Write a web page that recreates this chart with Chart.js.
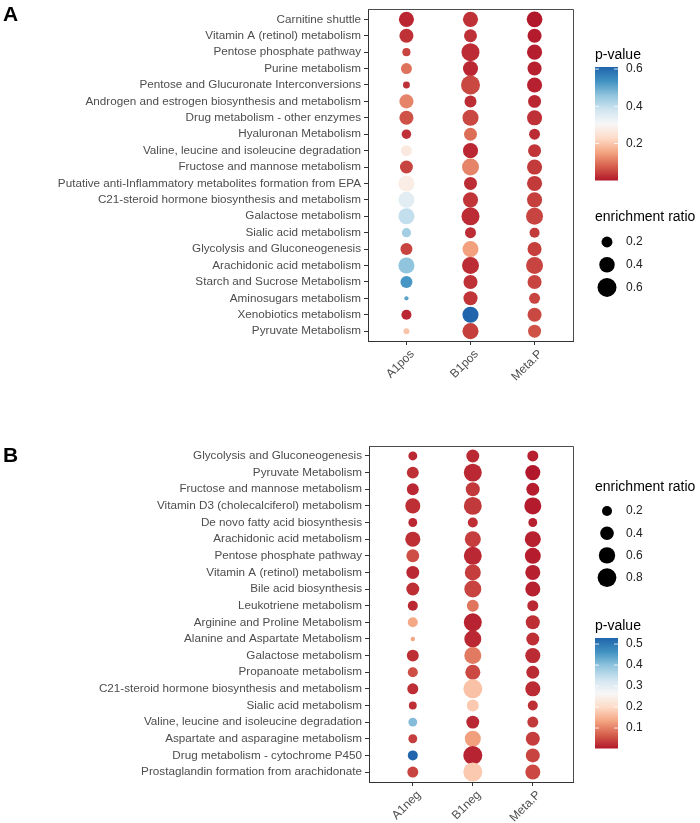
<!DOCTYPE html>
<html>
<head>
<meta charset="utf-8">
<script src="https://cdn.jsdelivr.net/npm/chart.js@4.4.1/dist/chart.umd.min.js"></script>
<style>
    body { margin: 0; background: #fff; }
    .panel { position: absolute; left: 0; width: 700px; }
    #wrapA { top: 0; height: 410px; }
    #wrapB { top: 410px; height: 413px; }
</style>
</head>
<body>
<div id="wrapA" class="panel"><canvas id="chartA"></canvas></div>
<div id="wrapB" class="panel"><canvas id="chartB"></canvas></div>
<script>
// ========= DATA: PANEL A =========
const pathwaysA = [
    'Carnitine shuttle',
    'Vitamin A (retinol) metabolism',
    'Pentose phosphate pathway',
    'Purine metabolism',
    'Pentose and Glucuronate Interconversions',
    'Androgen and estrogen biosynthesis and metabolism',
    'Drug metabolism - other enzymes',
    'Hyaluronan Metabolism',
    'Valine, leucine and isoleucine degradation',
    'Fructose and mannose metabolism',
    'Putative anti-Inflammatory metabolites formation from EPA',
    'C21-steroid hormone biosynthesis and metabolism',
    'Galactose metabolism',
    'Sialic acid metabolism',
    'Glycolysis and Gluconeogenesis',
    'Arachidonic acid metabolism',
    'Starch and Sucrose Metabolism',
    'Aminosugars metabolism',
    'Xenobiotics metabolism',
    'Pyruvate Metabolism'
];
const groupsA = ['A1pos', 'B1pos', 'Meta.P'];

const pvalA1pos  = [0.02, 0.03, 0.05, 0.10, 0.03, 0.12, 0.065, 0.03, 0.27, 0.05, 0.28, 0.35, 0.40, 0.44, 0.05, 0.46, 0.53, 0.51, 0.02, 0.20];
const pvalB1pos  = [0.03, 0.03, 0.025, 0.02, 0.055, 0.025, 0.055, 0.095, 0.02, 0.12, 0.025, 0.035, 0.025, 0.025, 0.15, 0.025, 0.03, 0.035, 0.611, 0.045];
const pvalMetaPA = [0.004, 0.008, 0.01, 0.012, 0.014, 0.02, 0.03, 0.025, 0.035, 0.04, 0.04, 0.045, 0.05, 0.04, 0.045, 0.05, 0.05, 0.05, 0.055, 0.065];

const ratioA1pos  = [0.38, 0.33, 0.11, 0.20, 0.08, 0.33, 0.33, 0.15, 0.20, 0.28, 0.43, 0.43, 0.43, 0.14, 0.24, 0.43, 0.24, 0.03, 0.17, 0.06];
const ratioB1pos  = [0.38, 0.28, 0.54, 0.38, 0.60, 0.24, 0.43, 0.28, 0.38, 0.48, 0.28, 0.38, 0.54, 0.20, 0.43, 0.48, 0.33, 0.33, 0.43, 0.43];
const ratioMetaPA = [0.41, 0.33, 0.38, 0.33, 0.38, 0.28, 0.38, 0.20, 0.28, 0.38, 0.38, 0.38, 0.48, 0.17, 0.33, 0.48, 0.33, 0.20, 0.33, 0.28];

const pTicksA = [0.2, 0.4, 0.6];
const ratioKeysA = [0.2, 0.4, 0.6];

// ========= DATA: PANEL B =========
const pathwaysB = [
    'Glycolysis and Gluconeogenesis',
    'Pyruvate Metabolism',
    'Fructose and mannose metabolism',
    'Vitamin D3 (cholecalciferol) metabolism',
    'De novo fatty acid biosynthesis',
    'Arachidonic acid metabolism',
    'Pentose phosphate pathway',
    'Vitamin A (retinol) metabolism',
    'Bile acid biosynthesis',
    'Leukotriene metabolism',
    'Arginine and Proline Metabolism',
    'Alanine and Aspartate Metabolism',
    'Galactose metabolism',
    'Propanoate metabolism',
    'C21-steroid hormone biosynthesis and metabolism',
    'Sialic acid metabolism',
    'Valine, leucine and isoleucine degradation',
    'Aspartate and asparagine metabolism',
    'Drug metabolism - cytochrome P450',
    'Prostaglandin formation from arachidonate'
];
const groupsB = ['A1neg', 'B1neg', 'Meta.P'];

const pvalA1neg  = [0.02, 0.025, 0.02, 0.025, 0.02, 0.025, 0.055, 0.02, 0.025, 0.02, 0.14, 0.14, 0.025, 0.055, 0.025, 0.025, 0.41, 0.04, 0.529, 0.045];
const pvalB1neg  = [0.02, 0.02, 0.035, 0.035, 0.025, 0.04, 0.02, 0.04, 0.045, 0.09, 0.015, 0.02, 0.095, 0.05, 0.17, 0.18, 0.02, 0.13, 0.015, 0.18];
const pvalMetaPB = [0.012, 0.005, 0.01, 0.008, 0.012, 0.012, 0.01, 0.012, 0.012, 0.02, 0.025, 0.025, 0.022, 0.022, 0.022, 0.025, 0.035, 0.04, 0.045, 0.05];

const ratioA1neg  = [0.15, 0.30, 0.30, 0.50, 0.15, 0.50, 0.36, 0.36, 0.36, 0.20, 0.20, 0.01, 0.30, 0.20, 0.25, 0.11, 0.15, 0.15, 0.20, 0.25];
const ratioB1neg  = [0.36, 0.73, 0.43, 0.73, 0.20, 0.57, 0.73, 0.57, 0.65, 0.30, 0.73, 0.65, 0.65, 0.50, 0.82, 0.30, 0.36, 0.57, 0.82, 0.82];
const ratioMetaPB = [0.25, 0.50, 0.36, 0.65, 0.15, 0.57, 0.57, 0.50, 0.50, 0.25, 0.43, 0.36, 0.50, 0.36, 0.50, 0.20, 0.25, 0.43, 0.43, 0.50];

const pTicksB = [0.1, 0.2, 0.3, 0.4, 0.5];
const ratioKeysB = [0.2, 0.4, 0.6, 0.8];

// ========= COLOUR / SIZE SCALES =========
const RDBU = ['#b2182b', '#d6604d', '#f4a582', '#fddbc7', '#f7f7f7', '#d1e5f0', '#92c5de', '#4393c3', '#2166ac'];
const FONT = '"Liberation Sans", Arial, sans-serif';

function hexToRgb(h) {
    const n = parseInt(h.slice(1), 16);
    return [(n >> 16) & 255, (n >> 8) & 255, n & 255];
}

function pColor(p, lo, hi) {
    let t = Math.min(1, Math.max(0, (p - lo) / (hi - lo))) * (RDBU.length - 1);
    const i = Math.min(Math.floor(t), RDBU.length - 2);
    const f = t - i;
    const a = hexToRgb(RDBU[i]);
    const b = hexToRgb(RDBU[i + 1]);
    const c = a.map((v, k) => Math.round(v + (b[k] - v) * f));
    return `rgb(${c[0]},${c[1]},${c[2]})`;
}

// ========= PANEL BUILDER =========
function makePanel(id, cfg) {
    const all = cfg.pvals.flat();
    const lo = Math.min(...all);
    const hi = Math.max(...all);

    const datasets = cfg.groups.map((g, gi) => ({
        label: g,
        data: cfg.pathways.map((name, row) => ({
            x: gi, y: row, p: cfg.pvals[gi][row], er: cfg.ratios[gi][row]
        })),
        backgroundColor: ctx => ctx.raw ? pColor(ctx.raw.p, lo, hi) : '#000',
        radius: ctx => ctx.raw ? cfg.size(ctx.raw.er) : 3,
        borderWidth: 0,
        hoverRadius: 0
    }));

    const a = cfg.area;
    const decor = {
        id: 'decor',
        afterDraw(chart) {
            const ctx = chart.ctx;
            const ca = chart.chartArea;
            ctx.save();
            // top + right frame
            ctx.strokeStyle = '#4d4d4d';
            ctx.lineWidth = 1;
            ctx.beginPath();
            ctx.moveTo(ca.left, Math.round(ca.top) + 0.5);
            ctx.lineTo(Math.round(ca.right) + 0.5, Math.round(ca.top) + 0.5);
            ctx.lineTo(Math.round(ca.right) + 0.5, ca.bottom);
            ctx.stroke();

            // panel letter
            ctx.fillStyle = '#000';
            ctx.font = 'bold 21px ' + FONT;
            ctx.textAlign = 'left';
            ctx.textBaseline = 'alphabetic';
            ctx.fillText(cfg.letter, 3, cfg.letterY);

            const L = cfg.legend;
            const lx = 595;
            // colour bar
            ctx.font = '14px ' + FONT;
            ctx.textBaseline = 'middle';
            ctx.fillStyle = '#000';
            ctx.fillText('p-value', lx, L.pTitle);
            const bw = 23;
            for (let y = 0; y < L.barH; y++) {
                const v = hi - (y / L.barH) * (hi - lo);
                ctx.fillStyle = pColor(v, lo, hi);
                ctx.fillRect(lx, L.barTop + y, bw, 1.5);
            }
            ctx.font = '12px ' + FONT;
            cfg.pTicks.forEach(t => {
                const y = L.barTop + L.barH - (t - lo) / (hi - lo) * L.barH;
                ctx.strokeStyle = 'rgba(255,255,255,0.8)';
                ctx.beginPath();
                ctx.moveTo(lx, y); ctx.lineTo(lx + 4, y);
                ctx.moveTo(lx + bw - 4, y); ctx.lineTo(lx + bw, y);
                ctx.stroke();
                ctx.fillStyle = '#222';
                ctx.fillText(String(t), lx + 31, y);
            });

            // size keys
            ctx.font = '14px ' + FONT;
            ctx.fillStyle = '#000';
            ctx.fillText('enrichment ratio', lx, L.sTitle);
            ctx.font = '12px ' + FONT;
            cfg.ratioKeys.forEach((k, i) => {
                const y = L.keyTop + i * L.keyStep;
                ctx.fillStyle = '#000';
                ctx.beginPath();
                ctx.arc(lx + 12, y, cfg.size(k), 0, Math.PI * 2);
                ctx.fill();
                ctx.fillStyle = '#222';
                ctx.fillText(String(k), lx + 31, y);
            });
            ctx.restore();
        }
    };

    new Chart(document.getElementById(id), {
        type: 'bubble',
        data: { datasets },
        plugins: [decor],
        options: {
            responsive: true,
            maintainAspectRatio: false,
            animation: false,
            events: [],
            layout: { padding: { left: 0, top: a.top, right: 700 - a.right, bottom: 0 } },
            plugins: { legend: { display: false }, tooltip: { enabled: false } },
            scales: {
                x: {
                    type: 'linear',
                    min: cfg.xMin,
                    max: cfg.xMax,
                    afterBuildTicks: s => { s.ticks = cfg.groups.map((g, i) => ({ value: i })); },
                    afterFit: s => {
                        s.height = cfg.height - a.bottom;
                        s.paddingLeft = 0; s.paddingRight = 0;
                    },
                    ticks: {
                        callback: v => cfg.groups[v],
                        autoSkip: false,
                        minRotation: 45,
                        maxRotation: 45,
                        padding: 2,
                        labelOffset: 6,
                        color: '#4d4d4d',
                        font: { family: FONT, size: 12 }
                    },
                    grid: { display: true, drawOnChartArea: false, drawTicks: true, tickLength: 4, color: '#333' },
                    border: { display: true, color: '#333', width: 1 }
                },
                y: {
                    type: 'linear',
                    reverse: true,
                    min: -0.6,
                    max: cfg.pathways.length - 0.4,
                    afterBuildTicks: s => { s.ticks = cfg.pathways.map((p, i) => ({ value: i })); },
                    afterFit: s => {
                        s.width = a.left;
                        s.paddingTop = 0; s.paddingBottom = 0;
                    },
                    ticks: {
                        callback: v => cfg.pathways[v],
                        autoSkip: false,
                        padding: 3,
                        color: '#4d4d4d',
                        font: { family: FONT, size: 11.7 }
                    },
                    grid: { display: true, drawOnChartArea: false, drawTicks: true, tickLength: 4, color: '#333' },
                    border: { display: true, color: '#333', width: 1 }
                }
            }
        }
    });
}

// ========= INITIALIZE =========
document.addEventListener('DOMContentLoaded', () => {
    makePanel('chartA', {
        letter: 'A', letterY: 21, height: 410,
        pathways: pathwaysA, groups: groupsA,
        pvals: [pvalA1pos, pvalB1pos, pvalMetaPA],
        ratios: [ratioA1pos, ratioB1pos, ratioMetaPA],
        pTicks: pTicksA, ratioKeys: ratioKeysA,
        size: v => Math.sqrt(150 * v),
        area: { left: 368, right: 573, top: 3, bottom: 341 },
        xMin: -0.6, xMax: 2.6,
        legend: { pTitle: 55, barTop: 67, barH: 113, sTitle: 217, keyTop: 242, keyStep: 22.7 }
    });
    makePanel('chartB', {
        letter: 'B', letterY: 52, height: 413,
        pathways: pathwaysB, groups: groupsB,
        pvals: [pvalA1neg, pvalB1neg, pvalMetaPB],
        ratios: [ratioA1neg, ratioB1neg, ratioMetaPB],
        pTicks: pTicksB, ratioKeys: ratioKeysB,
        size: v => Math.sqrt(4 + 105 * v),
        area: { left: 369, right: 573, top: 36, bottom: 372 },
        xMin: -0.73, xMax: 2.67,
        legend: { pTitle: 216, barTop: 228, barH: 110, sTitle: 77, keyTop: 101, keyStep: 22.2 }
    });
});
</script>
</body>
</html>
